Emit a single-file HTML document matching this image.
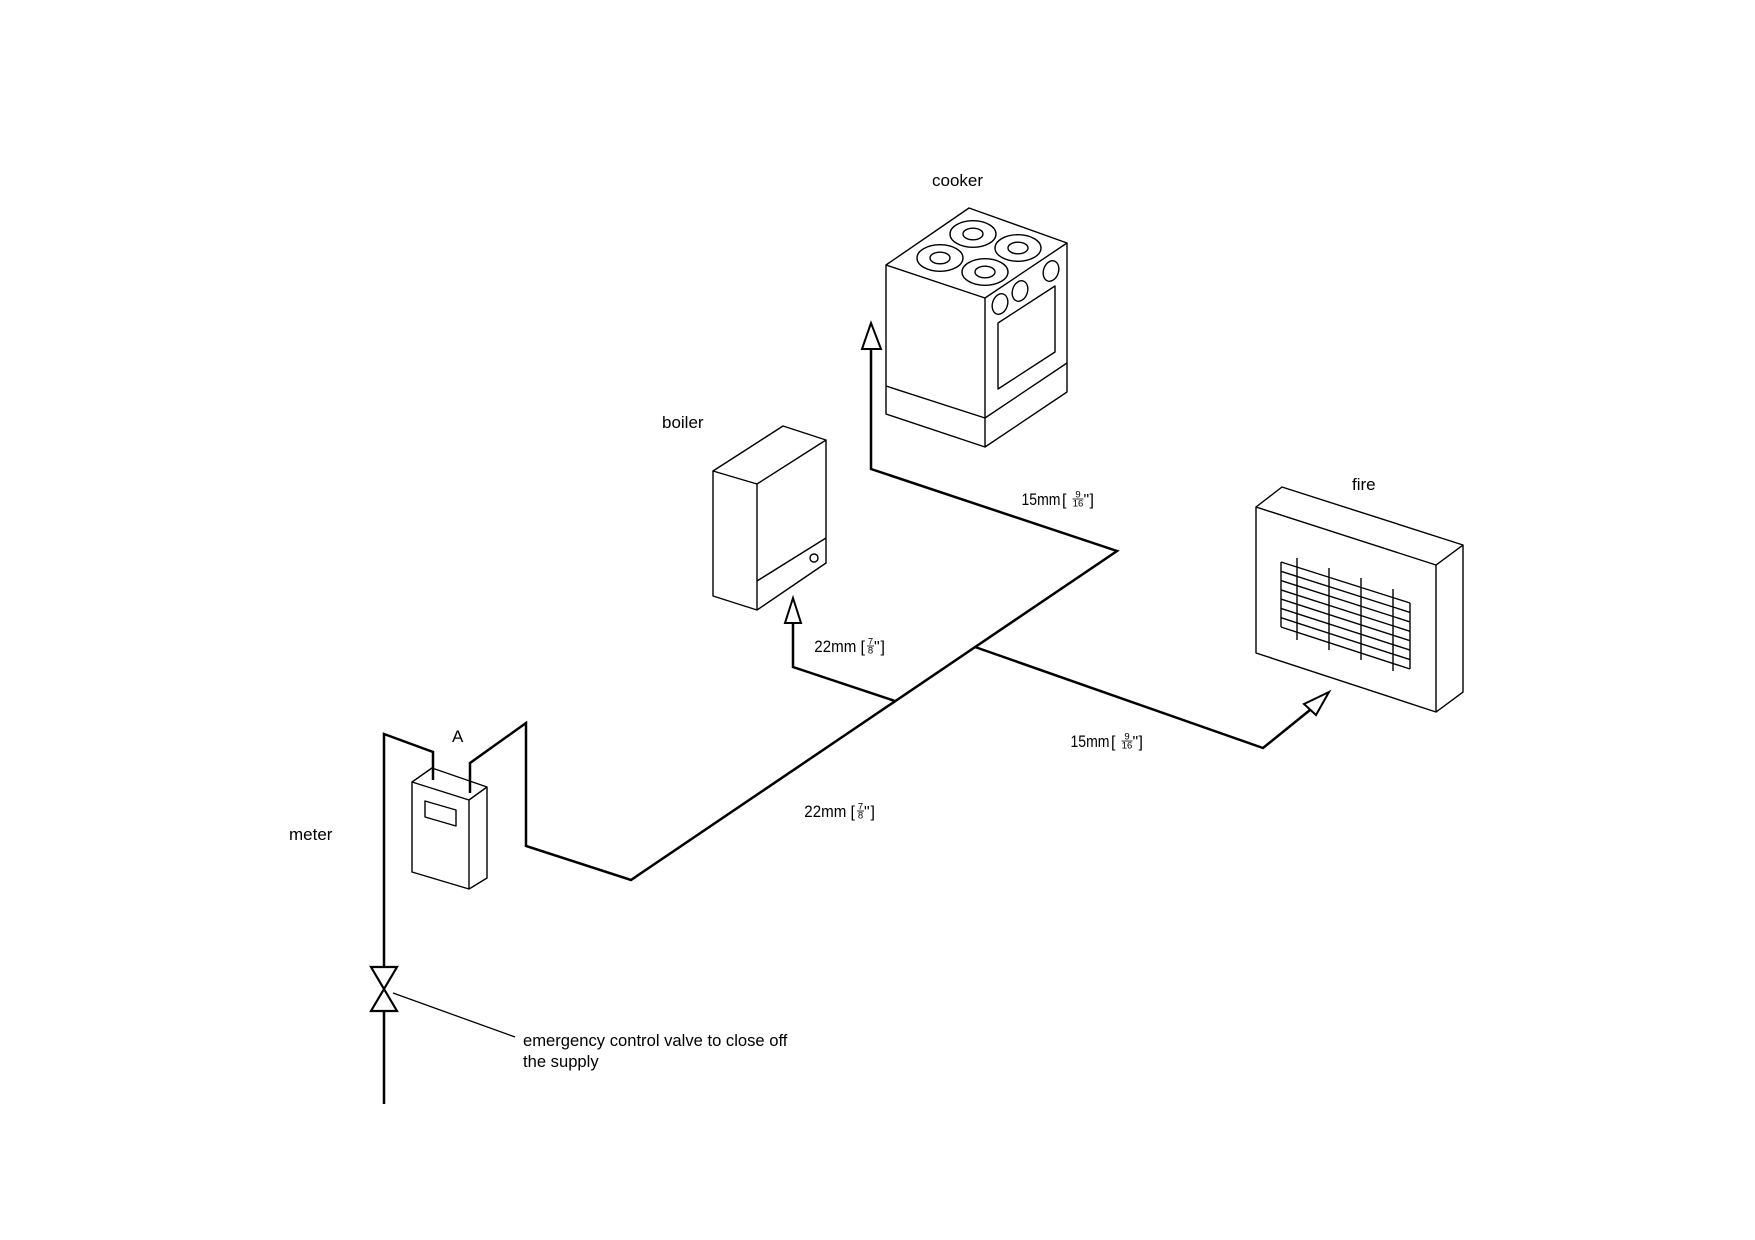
<!DOCTYPE html>
<html>
<head>
<meta charset="utf-8">
<style>
  html, body { margin: 0; padding: 0; background: #fff; }
  svg { display: block; }
  text { font-family: "Liberation Sans", Arial, sans-serif; fill: #000; }
</style>
</head>
<body>
<svg width="1755" height="1240" viewBox="0 0 1755 1240" xmlns="http://www.w3.org/2000/svg">
  <rect x="0" y="0" width="1755" height="1240" fill="#fff"/>

  <!-- ================= COOKER ================= -->
  <g stroke="#000" stroke-width="1.4" fill="none" stroke-linejoin="round">
    <polygon points="969,208 1067,243 985,298 886,265"/>
    <polyline points="886,265 886,414 985,447 1067,392 1067,243"/>
    <line x1="985" y1="298" x2="985" y2="447"/>
    <polyline points="886,386 985,418 1067,363"/>
    <polygon points="998,323 1055,286 1055,352 998,389"/>
    <!-- knobs -->
    <ellipse cx="1000" cy="304" rx="7.5" ry="10.5" transform="rotate(18 1000 304)"/>
    <ellipse cx="1020" cy="291" rx="7.5" ry="10.5" transform="rotate(18 1020 291)"/>
    <ellipse cx="1051" cy="271" rx="7.5" ry="10.5" transform="rotate(18 1051 271)"/>
    <!-- burners -->
    <ellipse cx="973" cy="234" rx="23" ry="13.3"/>
    <ellipse cx="973" cy="234" rx="10" ry="5.8"/>
    <ellipse cx="940" cy="258" rx="23" ry="13.3"/>
    <ellipse cx="940" cy="258" rx="10" ry="5.8"/>
    <ellipse cx="1018" cy="248" rx="23" ry="13.3"/>
    <ellipse cx="1018" cy="248" rx="10" ry="5.8"/>
    <ellipse cx="985" cy="272" rx="23" ry="13.3"/>
    <ellipse cx="985" cy="272" rx="10" ry="5.8"/>
  </g>

  <!-- ================= BOILER ================= -->
  <g stroke="#000" stroke-width="1.4" fill="none" stroke-linejoin="round">
    <polygon points="783,426 826,440 757,484 713,471"/>
    <polyline points="713,471 713,596 757,610 826,563 826,440"/>
    <line x1="757" y1="484" x2="757" y2="610"/>
    <line x1="757" y1="581" x2="826" y2="538"/>
    <circle cx="814" cy="558" r="4"/>
  </g>

  <!-- ================= FIRE ================= -->
  <g stroke="#000" stroke-width="1.4" fill="none" stroke-linejoin="round">
    <polygon points="1256,507 1436,565 1436,712 1256,653"/>
    <polyline points="1256,507 1282,487 1463,545 1436,565"/>
    <polyline points="1463,545 1463,692 1436,712"/>
    <!-- grid -->
    <line x1="1281" y1="562" x2="1281" y2="627"/>
    <line x1="1410" y1="603" x2="1410" y2="669"/>
    <line x1="1281" y1="562.0" x2="1410" y2="603.0"/>
    <line x1="1281" y1="571.3" x2="1410" y2="612.4"/>
    <line x1="1281" y1="580.6" x2="1410" y2="621.9"/>
    <line x1="1281" y1="589.9" x2="1410" y2="631.3"/>
    <line x1="1281" y1="599.1" x2="1410" y2="640.7"/>
    <line x1="1281" y1="608.4" x2="1410" y2="650.1"/>
    <line x1="1281" y1="617.7" x2="1410" y2="659.6"/>
    <line x1="1281" y1="627.0" x2="1410" y2="669.0"/>
    <line x1="1297" y1="558" x2="1297" y2="640"/>
    <line x1="1329" y1="568" x2="1329" y2="650"/>
    <line x1="1361" y1="578" x2="1361" y2="660"/>
    <line x1="1393" y1="589" x2="1393" y2="671"/>
  </g>

  <!-- ================= METER ================= -->
  <g stroke="#000" stroke-width="1.4" fill="none" stroke-linejoin="round">
    <polygon points="412,782 469,800 469,889 412,872"/>
    <polyline points="412,782 432,768 487,787 469,800"/>
    <polyline points="487,787 487,878 469,889"/>
    <polygon points="425,801 456,810 456,826 425,817"/>
  </g>

  <!-- ================= PIPES ================= -->
  <g stroke="#000" stroke-width="2.5" fill="none" stroke-linejoin="miter" stroke-linecap="butt">
    <polyline points="384,1104 384,1011"/>
    <polyline points="384,967 384,734 433,752 433,780"/>
    <polyline points="470,793 470,763 526,723 526,846 631,880 1117,551 871,469 871,349"/>
    <polyline points="793,623 793,667 895,701"/>
    <polyline points="975,647 1263,748 1310,710"/>
  </g>

  <!-- arrowheads -->
  <g stroke="#000" stroke-width="2" fill="#fff" stroke-linejoin="miter">
    <polygon points="871,323 862,349 881,349"/>
    <polygon points="793,598 785,623 801,623"/>
    <polygon points="1329,692 1304,704 1316,715"/>
  </g>

  <!-- valve -->
  <g stroke="#000" stroke-width="2.2" fill="#fff" stroke-linejoin="miter">
    <polygon points="371,967 397,967 384,989"/>
    <polygon points="384,989 371,1011 397,1011"/>
  </g>
  <line x1="393" y1="993" x2="515" y2="1037" stroke="#000" stroke-width="1.3"/>

  <!-- ================= LABELS ================= -->
  <g font-size="17">
    <text x="932" y="186">cooker</text>
    <text x="662" y="428">boiler</text>
    <text x="1352" y="490">fire</text>
    <text x="452" y="742">A</text>
    <text x="289" y="840">meter</text>
  </g>
  <g font-size="16.6">
    <text x="523" y="1046">emergency control valve to close off</text>
    <text x="523" y="1067">the supply</text>
  </g>

  <!-- 15mm [9/16"] top (S=1023, y=505) -->
  <g>
    <text x="1021.5" y="505" font-size="17" textLength="39" lengthAdjust="spacingAndGlyphs">15mm</text>
    <text x="1062" y="505" font-size="16">[</text>
    <text x="1078" y="497.5" font-size="9.5" text-anchor="middle">9</text>
    <line x1="1072.5" y1="499" x2="1083.5" y2="499" stroke="#000" stroke-width="0.8"/>
    <text x="1078" y="506.5" font-size="9.5" text-anchor="middle">16</text>
    <text x="1083.5" y="505" font-size="16">"</text>
    <text x="1089.5" y="505" font-size="16">]</text>
  </g>

  <!-- 15mm [9/16"] bottom (S=1072, y=747) -->
  <g>
    <text x="1070.5" y="747" font-size="17" textLength="39" lengthAdjust="spacingAndGlyphs">15mm</text>
    <text x="1111" y="747" font-size="16">[</text>
    <text x="1127" y="739.5" font-size="9.5" text-anchor="middle">9</text>
    <line x1="1121.5" y1="741" x2="1132.5" y2="741" stroke="#000" stroke-width="0.8"/>
    <text x="1127" y="748.5" font-size="9.5" text-anchor="middle">16</text>
    <text x="1132.5" y="747" font-size="16">"</text>
    <text x="1138.5" y="747" font-size="16">]</text>
  </g>

  <!-- 22mm [7/8"] upper (S=815, y=652) -->
  <g>
    <text x="814.3" y="652" font-size="17" textLength="42" lengthAdjust="spacingAndGlyphs">22mm</text>
    <text x="860.5" y="652" font-size="16">[</text>
    <text x="870.5" y="644.5" font-size="9.5" text-anchor="middle">7</text>
    <line x1="867" y1="646" x2="874" y2="646" stroke="#000" stroke-width="0.8"/>
    <text x="870.5" y="653.5" font-size="9.5" text-anchor="middle">8</text>
    <text x="874" y="652" font-size="16">"</text>
    <text x="880.5" y="652" font-size="16">]</text>
  </g>

  <!-- 22mm [7/8"] lower (S=805, y=817) -->
  <g>
    <text x="804.3" y="817" font-size="17" textLength="42" lengthAdjust="spacingAndGlyphs">22mm</text>
    <text x="850.5" y="817" font-size="16">[</text>
    <text x="860.5" y="809.5" font-size="9.5" text-anchor="middle">7</text>
    <line x1="857" y1="811" x2="864" y2="811" stroke="#000" stroke-width="0.8"/>
    <text x="860.5" y="818.5" font-size="9.5" text-anchor="middle">8</text>
    <text x="864" y="817" font-size="16">"</text>
    <text x="870.5" y="817" font-size="16">]</text>
  </g>
</svg>
</body>
</html>
